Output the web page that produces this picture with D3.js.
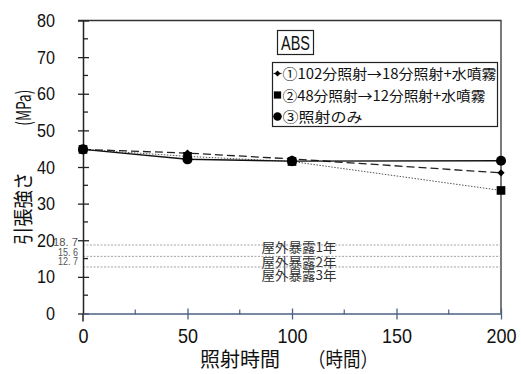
<!DOCTYPE html>
<html>
<head>
<meta charset="utf-8">
<script src="https://cdn.jsdelivr.net/npm/d3@7"></script>
<style>
  body { margin: 0; background: #fff; }
  text { font-family: "Liberation Sans", Arial, sans-serif; }
  .jp { font-family: "Noto Sans CJK JP", sans-serif; }
</style>
</head>
<body>
<div id="chart"></div>
<script>
// data
const hours = [0, 50, 100, 200]
const series1 = [44.8, 43.8, 42.2, 38.4]   // ①102分照射→18分照射+水噴霧
const series2 = [44.8, 42.9, 41.5, 33.6]   // ②48分照射→12分照射+水噴霧
const series3 = [44.8, 42.1, 41.6, 41.7]   // ③照射のみ
const seriesNames = ['①102分照射→18分照射+水噴霧', '②48分照射→12分照射+水噴霧', '③照射のみ']
const refValues = [18.7, 15.6, 12.7]
const refLabels = ['屋外暴露1年', '屋外暴露2年', '屋外暴露3年']
const refTickLabels = ['18. 7', '15. 6', '12. 7']
const xTicks = [0, 50, 100, 150, 200]
const yTicks = [0, 10, 20, 30, 40, 50, 60, 70, 80]

function draw () {
    const dimensions = {
        width: 521,
        height: 374,
        margin: { left: 83, right: 20, top: 20.5, bottom: 60.5 }
    }

    const xScale = d3.scaleLinear().domain([0, 200])
        .range([dimensions.margin.left, dimensions.width - dimensions.margin.right])
    const yScale = d3.scaleLinear().domain([0, 80])
        .range([dimensions.height - dimensions.margin.bottom, dimensions.margin.top])

    const svg = d3.select('#chart')
        .append('svg')
        .attr('width', dimensions.width)
        .attr('height', dimensions.height)

    const x0 = xScale(0), x1 = xScale(200), y0 = yScale(0), y1 = yScale(80)

    // plot frame (top + right)
    svg.append('path')
        .attr('d', `M${x0 - 5},${y1}H${x1}V${y0}`)
        .attr('fill', 'none').attr('stroke', '#333').attr('stroke-width', 1.3)

    // reference lines
    const refG = svg.append('g')
    refValues.forEach((v, i) => {
        refG.append('line')
            .attr('x1', x0).attr('x2', x1)
            .attr('y1', yScale(v)).attr('y2', yScale(v))
            .attr('stroke', '#999').attr('stroke-dasharray', '2,1.5').attr('stroke-width', 0.9)
        refG.append('text').attr('class', 'jp')
            .attr('x', 261.5).attr('y', yScale(v) + 7 + i * 3.2)
            .attr('font-size', 13).attr('fill', '#333')
            .attr('textLength', 75).attr('lengthAdjust', 'spacingAndGlyphs')
            .text(refLabels[i])
        refG.append('text')
            .attr('x', i > 0 ? 58 : 53).attr('y', yScale(v) + 1 - i * 1.7)
            .attr('font-size', 10).attr('fill', '#555')
            .attr('textLength', i > 0 ? 20 : 25).attr('lengthAdjust', 'spacingAndGlyphs')
            .text(refTickLabels[i])
    })

    // y axis
    const yAxis = d3.axisLeft(yScale).tickValues(yTicks).tickSize(0).tickPadding(28)
    const yG = svg.append('g').attr('transform', `translate(${x0},0)`).call(yAxis)
    yG.select('.domain').attr('stroke', '#222').attr('stroke-width', 1.5)
    yG.selectAll('.tick text').attr('font-size', 19).attr('fill', '#111')
        .style('font-family', '"Liberation Sans", sans-serif')
        .attr('textLength', d => String(d).length * 9).attr('lengthAdjust', 'spacingAndGlyphs')
    yG.selectAll('.tick').append('line')
        .attr('x1', -5).attr('x2', 6).attr('stroke', '#222').attr('stroke-width', 1.3)
    svg.append('g').selectAll('line')
        .data(d3.range(5, 80, 10))
        .join('line')
        .attr('x1', x0).attr('x2', x0 + 5)
        .attr('y1', d => yScale(d)).attr('y2', d => yScale(d))
        .attr('stroke', '#222').attr('stroke-width', 1.3)
    svg.append('line')
        .attr('x1', x0).attr('x2', x0).attr('y1', y0).attr('y2', y0 + 8)
        .attr('stroke', '#222').attr('stroke-width', 1.5)

    // x axis
    const xAxis = d3.axisBottom(xScale).tickValues(xTicks).tickSize(0).tickPadding(15)
    const xG = svg.append('g').attr('transform', `translate(0,${y0})`).call(xAxis)
    xG.select('.domain').attr('stroke', '#4b6282').attr('stroke-width', 1.5)
    xG.selectAll('.tick text').attr('font-size', 21).attr('fill', '#111')
        .style('font-family', '"Liberation Sans", sans-serif')
        .attr('textLength', d => String(d).length * 10).attr('lengthAdjust', 'spacingAndGlyphs')
    xG.selectAll('.tick').filter(d => d > 0).append('line')
        .attr('y1', -5).attr('y2', 6).attr('stroke', '#4b6282').attr('stroke-width', 1.3)
    svg.append('g').selectAll('line')
        .data([25, 75, 125, 175])
        .join('line')
        .attr('x1', d => xScale(d)).attr('x2', d => xScale(d))
        .attr('y1', y0 - 4).attr('y2', y0 + 1)
        .attr('stroke', '#4b6282').attr('stroke-width', 1.2)

    // axis titles
    svg.append('text').attr('class', 'jp')
        .attr('transform', `translate(31,${yScale(28.7)}) rotate(-90)`)
        .attr('text-anchor', 'middle').attr('font-size', 20).attr('fill', '#111')
        .attr('textLength', 73).attr('lengthAdjust', 'spacingAndGlyphs')
        .text('引張強さ')
    svg.append('text').attr('class', 'jp')
        .attr('transform', `translate(31,${yScale(56.2)}) rotate(-90)`)
        .attr('text-anchor', 'middle').attr('font-size', 20).attr('fill', '#111')
        .attr('textLength', 36).attr('lengthAdjust', 'spacingAndGlyphs')
        .text('(MPa)')
    svg.append('text').attr('class', 'jp')
        .attr('x', 200).attr('y', 367)
        .attr('font-size', 20).attr('fill', '#111')
        .attr('textLength', 80).attr('lengthAdjust', 'spacingAndGlyphs')
        .text('照射時間')
    svg.append('text').attr('class', 'jp')
        .attr('x', 308).attr('y', 367)
        .attr('font-size', 20).attr('fill', '#111')
        .attr('textLength', 70).attr('lengthAdjust', 'spacingAndGlyphs')
        .text('（時間）')

    // series
    const allSeries = [
        { values: series1, dash: '8,4', width: 1.3, color: '#222', symbol: d3.symbolSquare, rot: 45, size: 26 },
        { values: series2, dash: '1.5,1.5', width: 1, color: '#555', symbol: d3.symbolSquare, rot: 0, size: 75 },
        { values: series3, dash: null, width: 1.4, color: '#111', symbol: d3.symbolCircle, rot: 0, size: 80 }
    ]
    const line = d3.line().x((d, i) => xScale(hours[i])).y(d => yScale(d))
    allSeries.forEach(s => {
        svg.append('path').datum(s.values)
            .attr('d', line)
            .attr('fill', 'none').attr('stroke', s.color)
            .attr('stroke-width', s.width)
            .attr('stroke-dasharray', s.dash)
    })
    allSeries.forEach(s => {
        svg.append('g').selectAll('path')
            .data(s.values)
            .join('path')
            .attr('transform', (d, i) => `translate(${xScale(hours[i])},${yScale(d)}) rotate(${s.rot})`)
            .attr('d', d3.symbol().type(s.symbol).size(s.size))
            .attr('fill', '#000')
    })

    // ABS label box
    svg.append('rect').attr('x', 277.5).attr('y', 30.5).attr('width', 36).attr('height', 24)
        .attr('fill', '#fff').attr('stroke', '#222').attr('stroke-width', 1.2)
    svg.append('text').attr('x', 281).attr('y', 50)
        .attr('font-size', 20).attr('fill', '#111')
        .attr('textLength', 29).attr('lengthAdjust', 'spacingAndGlyphs')
        .text('ABS')

    // legend
    const legendWidths = [214, 203, 80]
    const legend = svg.append('g').attr('transform', 'translate(272.5,62.5)')
    legend.append('rect').attr('width', 225).attr('height', 64)
        .attr('fill', '#fff').attr('stroke', '#222').attr('stroke-width', 1.2)
    const rows = legend.selectAll('g.row')
        .data(allSeries)
        .join('g')
        .attr('transform', (d, i) => `translate(0,${11 + i * 21.5})`)
    rows.append('line').attr('x1', 1).attr('x2', 9)
        .attr('stroke', '#222').attr('stroke-width', 1.2)
        .attr('display', (d, i) => i === 1 ? 'none' : null)
    rows.append('path')
        .attr('transform', d => `translate(5,0) rotate(${d.rot})`)
        .attr('d', d => d3.symbol().type(d.symbol).size(d.size * 0.7)())
        .attr('fill', '#000')
    rows.append('text').attr('class', 'jp')
        .attr('x', 10).attr('y', 5.5)
        .attr('font-size', 14).attr('fill', '#111')
        .attr('textLength', (d, i) => legendWidths[i]).attr('lengthAdjust', 'spacingAndGlyphs')
        .text((d, i) => seriesNames[i])
}

draw()
</script>
</body>
</html>
